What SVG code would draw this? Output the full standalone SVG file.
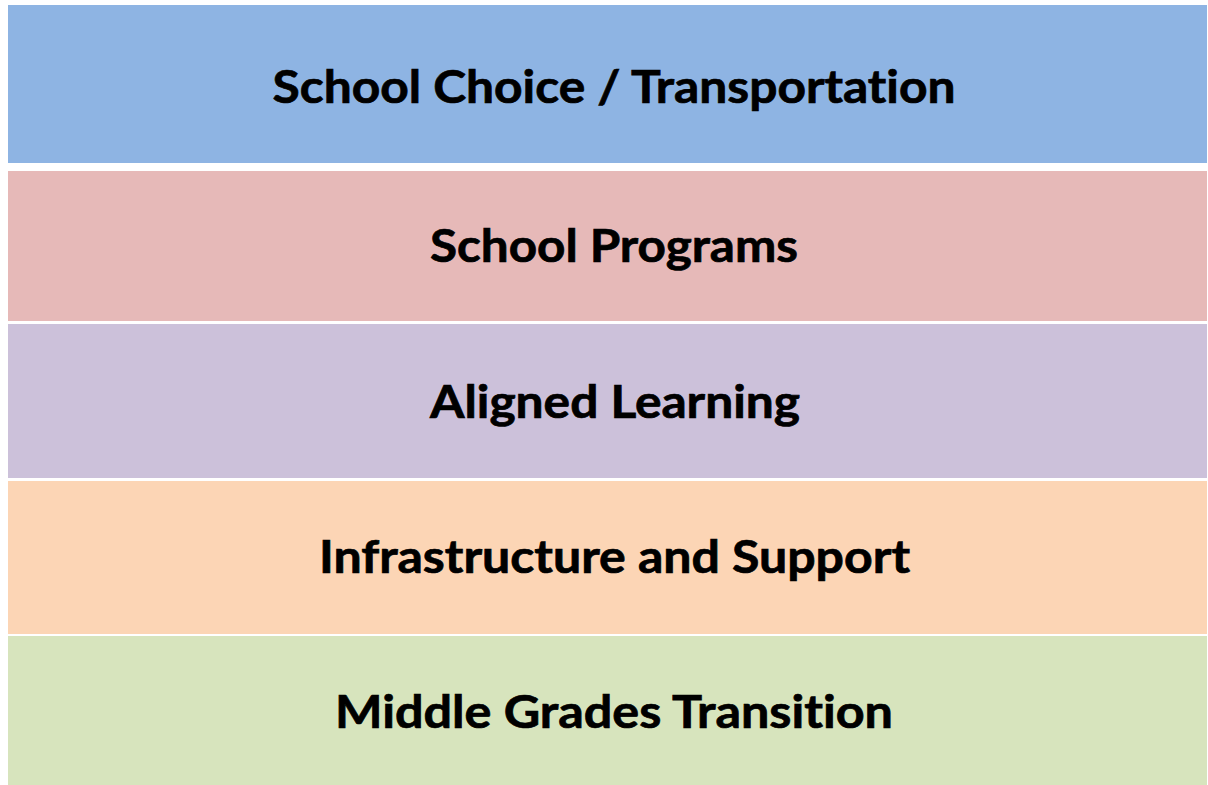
<svg xmlns="http://www.w3.org/2000/svg" width="1208" height="785" viewBox="0 0 1208 785">
<style>
.lbl{font-family:Lato,"Open Sans","Liberation Sans",sans-serif;font-weight:700;font-size:45px;fill:#000;stroke:#000;stroke-width:0.7;text-anchor:middle;font-variant-ligatures:none;font-feature-settings:"liga" 0}
</style>
<rect width="1208" height="785" fill="#ffffff"/>
<g id="band-school-choice">
<rect x="8" y="5" width="1199" height="158" fill="#8EB4E3"/>
<text class="lbl" x="614" y="103" textLength="683" lengthAdjust="spacingAndGlyphs">School Choice / Transportation</text>
</g>
<g id="band-school-programs">
<rect x="8" y="171" width="1199" height="150" fill="#E6B9B8"/>
<text class="lbl" x="614" y="262" textLength="368" lengthAdjust="spacingAndGlyphs">School Programs</text>
</g>
<g id="band-aligned-learning">
<rect x="8" y="324" width="1199" height="154" fill="#CCC1DA"/>
<text class="lbl" x="615" y="418" textLength="370" lengthAdjust="spacingAndGlyphs">Aligned Learning</text>
</g>
<g id="band-infrastructure">
<rect x="8" y="481" width="1199" height="153" fill="#FCD5B5"/>
<text class="lbl" x="614.5" y="573" textLength="591" lengthAdjust="spacingAndGlyphs">Infrastructure and Support</text>
</g>
<g id="band-middle-grades">
<rect x="8" y="636" width="1199" height="149" fill="#D7E4BD"/>
<text class="lbl" x="614" y="728" textLength="558" lengthAdjust="spacingAndGlyphs">Middle Grades Transition</text>
</g>
<g id="connectors"/>
</svg>
